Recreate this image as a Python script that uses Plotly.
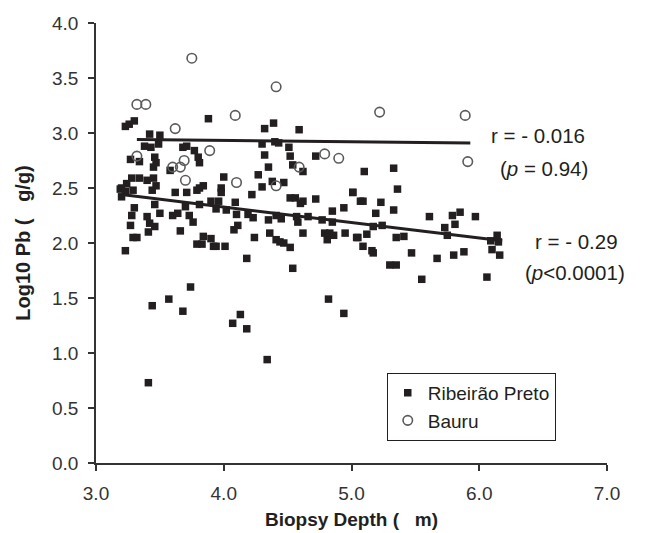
import plotly.graph_objects as go

# Ribeirão Preto samples (biopsy depth, log10 Pb)
rp_x = [3.23, 3.26, 3.30, 3.88, 4.32, 4.39, 4.59, 3.42, 3.50, 3.38, 3.43, 3.49, 3.68, 3.71, 3.77,
        3.80, 3.81, 3.46, 3.47, 3.45, 3.27, 3.34, 3.58, 4.30, 4.40, 4.43, 4.51, 4.52, 4.32, 4.35,
        4.54, 4.62, 4.72, 3.28, 3.34, 3.40, 3.45, 3.47, 3.24, 3.20, 3.19, 3.23, 3.29, 3.44, 3.62,
        3.71, 3.79, 3.84, 3.81, 4.00, 3.98, 3.98, 4.22, 4.27, 4.30, 4.38, 4.47, 4.52, 4.56, 4.60,
        4.62, 4.72, 5.01, 4.94, 4.85, 5.07, 3.20, 3.30, 3.46, 3.50, 3.28, 3.27, 3.40, 3.42, 3.46,
        3.41, 3.29, 3.32, 3.60, 3.64, 3.73, 3.76, 3.70, 3.81, 3.66, 3.90, 3.96, 3.94, 4.02, 4.09,
        4.10, 4.11, 4.08, 4.19, 4.23, 4.35, 4.41, 4.45, 4.57, 4.58, 4.66, 4.77, 4.85, 4.24, 4.36,
        4.41, 4.44, 4.47, 4.52, 4.62, 4.79, 4.81, 4.83, 4.86, 4.95, 5.04, 3.79, 3.83, 3.84, 3.90,
        3.92, 3.94, 4.01, 3.23, 4.18, 4.54, 3.74, 3.44, 3.57, 3.68, 4.13, 4.07, 4.18, 4.34, 3.41,
        4.82, 4.94, 5.10, 5.33, 5.36, 5.01, 5.09, 5.23, 5.19, 5.33, 5.17, 5.24, 5.05, 5.12, 5.09,
        5.16, 5.17, 5.35, 5.41, 5.47, 5.30, 5.35, 5.55, 5.61, 5.79, 5.85, 5.97, 5.73, 5.81, 5.75,
        5.67, 5.80, 5.88, 6.09, 6.14, 6.15, 6.10, 6.16, 6.06]
rp_y = [3.06, 3.08, 3.11, 3.13, 3.04, 3.09, 3.03, 2.99, 2.98, 2.88, 2.87, 2.90, 2.87, 2.88, 2.84,
        2.78, 2.73, 2.78, 2.73, 2.69, 2.76, 2.74, 2.66, 2.90, 2.92, 2.91, 2.87, 2.79, 2.80, 2.69,
        2.71, 2.65, 2.79, 2.59, 2.59, 2.57, 2.59, 2.52, 2.54, 2.50, 2.49, 2.47, 2.48, 2.48, 2.46,
        2.46, 2.48, 2.52, 2.50, 2.60, 2.50, 2.46, 2.44, 2.62, 2.51, 2.56, 2.55, 2.41, 2.41, 2.36,
        2.38, 2.40, 2.46, 2.32, 2.29, 2.38, 2.42, 2.32, 2.35, 2.27, 2.25, 2.16, 2.24, 2.18, 2.15,
        2.10, 2.05, 2.05, 2.25, 2.27, 2.25, 2.19, 2.33, 2.35, 2.11, 2.38, 2.38, 2.31, 2.30, 2.37,
        2.26, 2.16, 2.12, 2.26, 2.23, 2.21, 2.25, 2.22, 2.24, 2.19, 2.24, 2.21, 2.19, 2.05, 2.09,
        2.03, 2.01, 2.00, 1.96, 2.09, 2.09, 2.03, 2.09, 2.07, 2.09, 2.05, 1.99, 1.99, 2.06, 2.04,
        1.97, 1.97, 1.97, 1.93, 1.86, 1.77, 1.60, 1.43, 1.49, 1.38, 1.35, 1.27, 1.22, 0.94, 0.73,
        1.49, 1.36, 2.65, 2.68, 2.49, 2.46, 2.38, 2.37, 2.27, 2.30, 2.15, 2.16, 2.05, 2.08, 1.97,
        1.93, 1.91, 2.05, 2.06, 1.91, 1.80, 1.80, 1.67, 2.24, 2.25, 2.28, 2.24, 2.14, 2.17, 2.07,
        1.86, 1.89, 1.92, 2.02, 2.07, 2.01, 1.94, 1.89, 1.69]

# Bauru samples
ba_x = [3.75, 3.32, 3.39, 4.41, 4.09, 3.62, 3.32, 3.89, 3.69, 3.66, 3.60, 4.59, 4.79, 4.90,
        3.70, 4.10, 4.41, 5.22, 5.89, 5.91]
ba_y = [3.68, 3.26, 3.26, 3.42, 3.16, 3.04, 2.79, 2.84, 2.75, 2.69, 2.69, 2.69, 2.81, 2.77,
        2.57, 2.55, 2.52, 3.19, 3.16, 2.74]

# Regression lines (end points)
rp_fit_x = [3.20, 6.18]
rp_fit_y = [2.44, 2.02]
ba_fit_x = [3.32, 5.93]
ba_fit_y = [2.94, 2.91]

x_ticks = [3.0, 4.0, 5.0, 6.0, 7.0]
y_ticks = [0.0, 0.5, 1.0, 1.5, 2.0, 2.5, 3.0, 3.5, 4.0]

INK = "#231f20"
FONT = "Liberation Sans, Arial, sans-serif"

fig = go.Figure()
fig.add_trace(go.Scatter(x=rp_x, y=rp_y, mode="markers", name="Ribeirão Preto",
                         marker=dict(symbol="square", size=7.5, color=INK, line=dict(width=0))))
fig.add_trace(go.Scatter(x=ba_x, y=ba_y, mode="markers", name="Bauru",
                         marker=dict(symbol="circle-open", size=9.5, color="#5a5a5a",
                                     line=dict(width=1.6, color="#5a5a5a"))))
fig.add_trace(go.Scatter(x=ba_fit_x, y=ba_fit_y, mode="lines", showlegend=False,
                         line=dict(color=INK, width=3)))
fig.add_trace(go.Scatter(x=rp_fit_x, y=rp_fit_y, mode="lines", showlegend=False,
                         line=dict(color=INK, width=3)))

ann_font = dict(family=FONT, size=20.5, color=INK)
annotations = [
    dict(x=6.46, y=2.98, text="r = - 0.016"),
    dict(x=6.51, y=2.68, text="(<i>p</i> = 0.94)"),
    dict(x=6.76, y=2.01, text="r = - 0.29"),
    dict(x=6.75, y=1.73, text="(<i>p</i><0.0001)"),
]
for a in annotations:
    a.update(xref="x", yref="y", showarrow=False, font=ann_font, xanchor="center", yanchor="middle")

fig.update_layout(
    width=662, height=533,
    margin=dict(l=96, r=55, t=23, b=70, pad=0),
    paper_bgcolor="white", plot_bgcolor="white",
    font=dict(family=FONT, size=19, color="#333333"),
    showlegend=True,
    legend=dict(x=0.569, y=0.205, xanchor="left", yanchor="top",
                bordercolor=INK, borderwidth=1, bgcolor="white",
                font=dict(family=FONT, size=19, color=INK),
                itemsizing="trace", tracegroupgap=0),
    annotations=annotations,
    xaxis=dict(range=[3, 7], tickvals=x_ticks, tickformat=".1f", automargin=False,
               showgrid=False, zeroline=False, showline=True, linecolor="#333333", linewidth=1.5,
               ticks="outside", ticklen=6, tickcolor="#333333", tickwidth=1.5,
               ticklabelstandoff=6,
               title=dict(text="<b>Biopsy Depth (   m)</b>", font=dict(family=FONT, size=19, color=INK),
                          standoff=10)),
    yaxis=dict(range=[0, 4], tickvals=y_ticks, tickformat=".1f", automargin=False,
               showgrid=False, zeroline=False, showline=True, linecolor="#333333", linewidth=1.5,
               ticks="outside", ticklen=6, tickcolor="#333333", tickwidth=1.5,
               ticklabelstandoff=6,
               title=dict(text="<b>Log10 Pb (   g/g)</b>", font=dict(family=FONT, size=20, color=INK),
                          standoff=16)),
)

fig.write_html("out.html")
